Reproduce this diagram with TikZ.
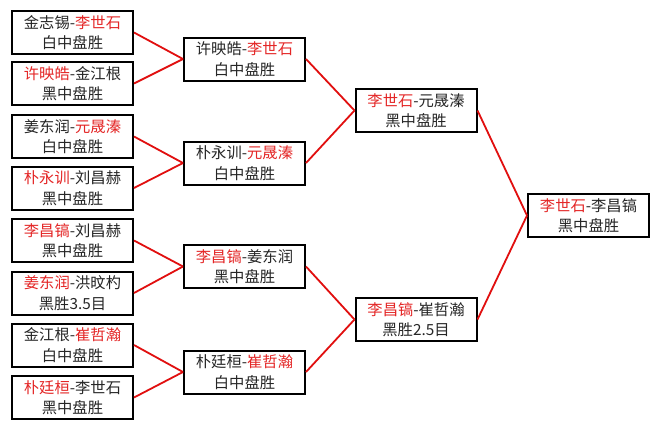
\documentclass[tikz,border=0pt]{standalone}
\usepackage{fontspec}
\newfontfamily\cjk{Noto Sans CJK SC}
\definecolor{winred}{RGB}{228,38,38}
\definecolor{linered}{RGB}{225,15,15}
\tikzset{
  game/.style={draw=black, line width=2pt, fill=white, minimum width=121pt, minimum height=43pt,
    inner sep=0pt, align=center, font=\cjk\fontsize{15.3}{20.5}\selectfont, text=black!85},
  link/.style={draw=linered, line width=1.8pt}
}
\newcommand{\w}[1]{\textcolor{winred}{#1}}
\begin{document}
\begin{tikzpicture}[x=1pt,y=-1pt]
\useasboundingbox[fill=white] (0,0) rectangle (660,429);
% column 1
\node[game] (a1) at (72.5,32.5) {金志锡-\w{李世石}\\白中盘胜};
\node[game] (a2) at (72.5,83.5) {\w{许映皓}-金江根\\黑中盘胜};
\node[game] (a3) at (72.5,136.5) {姜东润-\w{元晟溱}\\白中盘胜};
\node[game] (a4) at (72.5,188) {\w{朴永训}-刘昌赫\\黑中盘胜};
\node[game] (a5) at (72.5,240.5) {\w{李昌镐}-刘昌赫\\黑中盘胜};
\node[game] (a6) at (72.5,293) {\w{姜东润}-洪旼杓\\黑胜3.5目};
\node[game] (a7) at (72.5,345) {金江根-\w{崔哲瀚}\\白中盘胜};
\node[game] (a8) at (72.5,397.5) {\w{朴廷桓}-李世石\\黑中盘胜};
% column 2
\node[game] (b1) at (244.5,59) {许映皓-\w{李世石}\\白中盘胜};
\node[game] (b2) at (244.5,163) {朴永训-\w{元晟溱}\\白中盘胜};
\node[game] (b3) at (244.5,266.5) {\w{李昌镐}-姜东润\\黑中盘胜};
\node[game] (b4) at (244.5,372) {朴廷桓-\w{崔哲瀚}\\白中盘胜};
% column 3
\node[game] (c1) at (416,110.5) {\w{李世石}-元晟溱\\黑中盘胜};
\node[game] (c2) at (416,319.5) {\w{李昌镐}-崔哲瀚\\黑胜2.5目};
% column 4
\node[game] (d1) at (588.5,215.5) {\w{李世石}-李昌镐\\黑中盘胜};
% connectors
\foreach \c/\p in {a1/b1,a2/b1,a3/b2,a4/b2,a5/b3,a6/b3,a7/b4,a8/b4,b1/c1,b2/c1,b3/c2,b4/c2,c1/d1,c2/d1}
  \draw[link] (\c.east) -- (\p.west);
\end{tikzpicture}
\end{document}
